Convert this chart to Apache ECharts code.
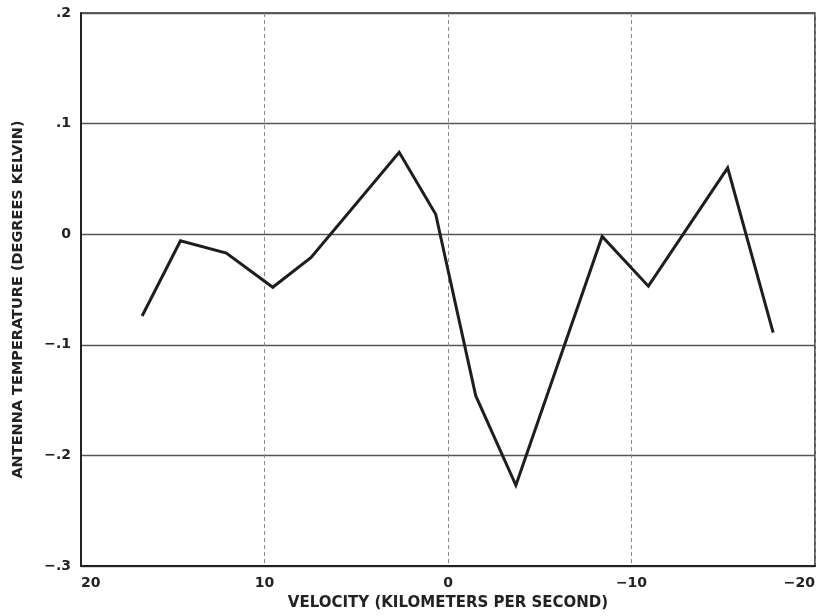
<!DOCTYPE html>
<html>
<head>
<meta charset="utf-8">
<script src="https://cdn.jsdelivr.net/npm/echarts@6/dist/echarts.min.js"></script>
<style>
html,body{margin:0;padding:0;background:#fff;}
#chart{width:817px;height:616px;}
</style>
</head>
<body>
<div id="chart"></div>
<script>
// Velocity (km/s) of each sample
const velocity = [16.67, 14.58, 12.08, 9.55, 7.46, 2.66, 0.67, -1.51, -3.70, -8.40, -10.92, -15.24, -17.72];
// Antenna temperature (K)
const temperature = [-0.074, -0.006, -0.017, -0.048, -0.021, 0.074, 0.018, -0.146, -0.227, -0.002, -0.047, 0.060, -0.089];

const xTitle = 'VELOCITY (KILOMETERS PER SECOND)';
const yTitle = 'ANTENNA TEMPERATURE (DEGREES KELVIN)';

const points = velocity.map((v, i) => [v, temperature[i]]);

const fmtY = v => {
  if (Math.abs(v) < 1e-9) return '0';
  const s = Math.abs(v).toFixed(1).replace(/^0/, '');
  return (v < 0 ? '\u2212' : '') + s;
};
const fmtX = v => (v < 0 ? '\u2212' + Math.abs(v) : String(v));

const FONT = 'DejaVu Sans, Liberation Sans, sans-serif';

const chart = echarts.init(document.getElementById('chart'));
chart.setOption({
  animation: false,
  backgroundColor: '#fff',
  grid: {
    left: 81, right: 2, top: 13, bottom: 50,
    containLabel: false, outerBoundsMode: 'none',
    show: true, borderColor: '#2a2a2a', borderWidth: 1.5
  },
  xAxis: {
    type: 'value', min: -20, max: 20, interval: 10, inverse: true,
    name: xTitle, nameLocation: 'middle', nameGap: 30,
    nameTextStyle: { fontFamily: FONT, fontSize: 15, fontWeight: 'bold', color: '#222' },
    axisLine: { show: true, onZero: false, lineStyle: { color: '#222', width: 2 } },
    axisTick: { show: false },
    axisLabel: { formatter: fmtX, margin: 10, alignMinLabel: 'right', alignMaxLabel: 'left',
      fontFamily: FONT, fontSize: 14, fontWeight: 'bold', color: '#222' },
    splitLine: { show: true, lineStyle: { color: '#8a8a8a', width: 1, type: [4, 3] } }
  },
  yAxis: {
    type: 'value', min: -0.3, max: 0.2, interval: 0.1,
    name: yTitle, nameLocation: 'middle', nameGap: 55,
    nameTextStyle: { fontFamily: FONT, fontSize: 14.5, fontWeight: 'bold', color: '#222', padding: [0, 20, 0, 0] },
    axisLine: { show: true, onZero: false, lineStyle: { color: '#222', width: 2 } },
    axisTick: { show: false },
    axisLabel: { formatter: fmtY, margin: 10, fontFamily: FONT, fontSize: 14, fontWeight: 'bold', color: '#222' },
    splitLine: { show: true, lineStyle: { color: '#555', width: 1.3 } }
  },
  series: [{
    type: 'line',
    data: points,
    showSymbol: false,
    symbol: 'none',
    lineStyle: { color: '#1e1e1e', width: 3, join: 'miter' }
  }]
});
</script>
</body>
</html>
